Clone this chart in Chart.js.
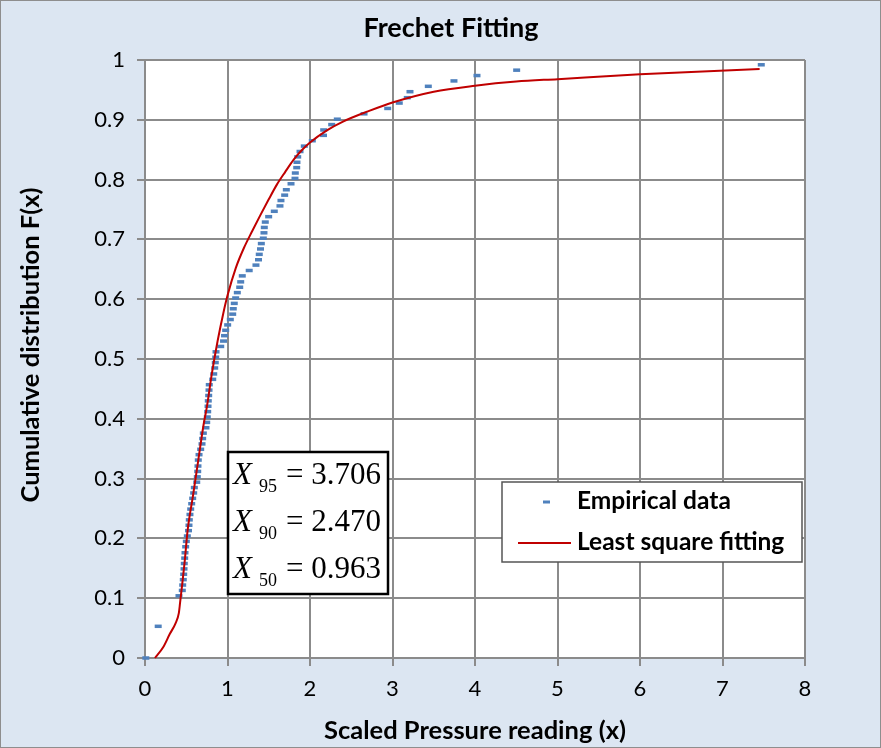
<!DOCTYPE html>
<html>
<head>
<meta charset="utf-8">
<script src="https://cdn.jsdelivr.net/npm/chart.js@4"></script>
<style>
  body { margin: 0; background: #fff; }
  #wrap { width: 881px; height: 748px; }
</style>
</head>
<body>
<div id="wrap"><canvas id="grafik" width="881" height="748"></canvas></div>
<script>
// empirical points
const empX = [0.01, 0.16,
  0.412, 0.452, 0.457, 0.464, 0.469, 0.473, 0.476, 0.481, 0.485, 0.493,
  0.501, 0.513, 0.527, 0.533, 0.537, 0.545, 0.554, 0.566, 0.578, 0.590,
  0.598, 0.627, 0.634, 0.639, 0.642, 0.646, 0.655, 0.675, 0.691, 0.699,
  0.707, 0.739, 0.748, 0.755, 0.760, 0.764, 0.767, 0.772, 0.776, 0.779,
  0.821, 0.833, 0.845, 0.852, 0.857, 0.861, 0.918, 0.952, 0.964, 0.978,
  1.002, 1.034, 1.063, 1.070, 1.082, 1.099, 1.119, 1.148, 1.160, 1.179,
  1.263, 1.345, 1.376, 1.385, 1.400, 1.410, 1.434, 1.442, 1.446, 1.458,
  1.499, 1.567, 1.636, 1.648, 1.693, 1.713, 1.770, 1.818, 1.822, 1.839,
  1.842, 1.851, 1.879, 1.931, 2.028, 2.164, 2.166, 2.263, 2.331, 2.655,
  2.942, 3.082, 3.179, 3.212, 3.434, 3.745, 4.024, 4.505, 7.470]
const empY = [0, 0.053,
  0.104, 0.113, 0.122, 0.131, 0.140, 0.149, 0.158, 0.167, 0.176, 0.186,
  0.195, 0.204, 0.213, 0.222, 0.231, 0.240, 0.249, 0.258, 0.267, 0.276,
  0.285, 0.294, 0.303, 0.312, 0.321, 0.331, 0.340, 0.349, 0.358, 0.367,
  0.376, 0.385, 0.394, 0.403, 0.412, 0.421, 0.430, 0.439, 0.448, 0.457,
  0.466, 0.475, 0.485, 0.494, 0.503, 0.512, 0.521, 0.530, 0.539, 0.548,
  0.557, 0.566, 0.575, 0.584, 0.593, 0.602, 0.611, 0.620, 0.629, 0.639,
  0.648, 0.657, 0.666, 0.675, 0.684, 0.693, 0.702, 0.711, 0.720, 0.729,
  0.738, 0.747, 0.756, 0.765, 0.774, 0.783, 0.793, 0.802, 0.811, 0.820,
  0.829, 0.838, 0.847, 0.856, 0.865, 0.874, 0.883, 0.892, 0.901, 0.910,
  0.919, 0.928, 0.937, 0.947, 0.956, 0.965, 0.974, 0.983, 0.992]

// least square fitting curve
const fitX = [0.12, 0.22, 0.30, 0.37, 0.41, 0.425, 0.44, 0.48, 0.517, 0.58,
  0.646, 0.71, 0.75, 0.81, 0.88, 0.95, 1.0, 1.1, 1.2, 1.3, 1.4, 1.5, 1.6,
  1.7, 1.8, 1.9, 2.0, 2.2, 2.4, 2.7, 3.0, 3.5, 4.0, 4.5, 5.0, 6.0, 7.45]
const fitY = [0, 0.018, 0.040, 0.058, 0.075, 0.092, 0.11, 0.16, 0.214, 0.27,
  0.331, 0.39, 0.42, 0.475, 0.53, 0.577, 0.606, 0.652, 0.686, 0.714, 0.741,
  0.767, 0.792, 0.813, 0.833, 0.849, 0.862, 0.882, 0.897, 0.914, 0.929,
  0.947, 0.957, 0.964, 0.968, 0.976, 0.985]

const xTickLabels = ['0', '1', '2', '3', '4', '5', '6', '7', '8']
const yTickLabels = ['0', '0.1', '0.2', '0.3', '0.4', '0.5', '0.6', '0.7', '0.8', '0.9', '1']

const quantiles = [['95', '3.706'], ['90', '2.470'], ['50', '0.963']]

const blue = '#4f81bd'
const red = '#c00000'
const gridCol = '#8b8b8b'

const decor = {
    id: 'decor',
    beforeDraw(chart) {
        const { ctx, chartArea: a } = chart
        ctx.save()
        ctx.fillStyle = '#dce6f2'
        ctx.fillRect(0, 0, chart.width, chart.height)
        ctx.strokeStyle = '#8e8e8e'
        ctx.lineWidth = 1
        ctx.strokeRect(0.5, 0.5, chart.width - 1, chart.height - 1)
        ctx.fillStyle = '#fff'
        ctx.fillRect(a.left, a.top, a.right - a.left, a.bottom - a.top)
        ctx.restore()
    },
    afterDraw(chart) {
        const { ctx } = chart
        ctx.save()
        ctx.fillStyle = '#000'
        ctx.textBaseline = 'middle'
        ctx.textAlign = 'center'
        // titles
        ctx.font = 'bold 27px Lato'
        ctx.fillText('Frechet Fitting', 451, 28)
        ctx.font = 'bold 25.5px Lato'
        ctx.fillText('Scaled Pressure reading (x)', 475, 731)
        ctx.save()
        ctx.translate(31, 345)
        ctx.rotate(-Math.PI / 2)
        ctx.fillText('Cumulative distribution F(x)', 0, 0)
        ctx.restore()

        // quantile box
        ctx.fillStyle = '#fff'
        ctx.fillRect(228, 452, 160, 142)
        ctx.strokeStyle = '#000'
        ctx.lineWidth = 2.5
        ctx.strokeRect(228, 452, 160, 142)
        ctx.fillStyle = '#000'
        ctx.textAlign = 'left'
        ctx.textBaseline = 'alphabetic'
        quantiles.forEach((q, i) => {
            const base = 484 + i * 47
            ctx.font = 'italic 31px "Liberation Serif"'
            ctx.fillText('X', 233, base)
            ctx.font = '18px "Liberation Serif"'
            ctx.fillText(q[0], 259, base + 8)
            ctx.font = '31px "Liberation Serif"'
            ctx.fillText('= ' + q[1], 286, base)
        })

        // legend
        ctx.fillStyle = '#fff'
        ctx.fillRect(502, 482, 300, 80)
        ctx.strokeStyle = '#555'
        ctx.lineWidth = 1.5
        ctx.strokeRect(502, 482, 300, 80)
        ctx.strokeStyle = blue
        ctx.lineWidth = 3
        ctx.beginPath()
        ctx.moveTo(543, 502)
        ctx.lineTo(550, 502)
        ctx.stroke()
        ctx.strokeStyle = red
        ctx.lineWidth = 2
        ctx.beginPath()
        ctx.moveTo(518, 543)
        ctx.lineTo(571, 543)
        ctx.stroke()
        ctx.fillStyle = '#000'
        ctx.font = 'bold 24.5px Lato'
        ctx.textBaseline = 'middle'
        ctx.fillText('Empirical data', 577, 501)
        ctx.fillText('Least square fitting', 577, 542)
        ctx.restore()
    }
}

const empData = empX.map((x, i) => ({ x: x, y: empY[i] }))
const fitData = fitX.map((x, i) => ({ x: x, y: fitY[i] }))

const ctx = document.getElementById('grafik')
const myChart = new Chart(ctx, {
    type: 'scatter',
    data: {
        datasets: [{
            label: 'Least square fitting',
            data: fitData,
            showLine: true,
            borderColor: red,
            borderWidth: 2,
            pointRadius: 0,
            cubicInterpolationMode: 'monotone',
            order: 0
        }, {
            label: 'Empirical data',
            data: empData,
            pointStyle: 'line',
            pointRadius: 3.5,
            pointBorderWidth: 3.5,
            borderColor: blue,
            backgroundColor: blue,
            order: 1
        }]
    },
    options: {
        responsive: false,
        animation: false,
        events: [],
        clip: false,
        layout: { padding: { top: 60, right: 76, left: 0, bottom: 0 } },
        plugins: {
            legend: { display: false },
            title: { display: false },
            tooltip: { enabled: false }
        },
        scales: {
            x: {
                type: 'linear',
                min: 0,
                max: 8,
                afterFit: (s) => { s.height = 90 },
                ticks: {
                    stepSize: 1,
                    padding: 10,
                    color: '#000',
                    font: { family: 'Lato', size: 22 },
                    callback: (v, i) => xTickLabels[i]
                },
                grid: { color: gridCol, lineWidth: 2, tickLength: 8 },
                border: { color: gridCol, width: 2 }
            },
            y: {
                min: 0,
                max: 1,
                afterFit: (s) => { s.width = 145 },
                ticks: {
                    stepSize: 0.1,
                    padding: 12,
                    color: '#000',
                    font: { family: 'Lato', size: 22 },
                    callback: (v, i) => yTickLabels[i]
                },
                grid: { color: gridCol, lineWidth: 2, tickLength: 8 },
                border: { color: gridCol, width: 2 }
            }
        }
    },
    plugins: [decor]
})
</script>
</body>
</html>
